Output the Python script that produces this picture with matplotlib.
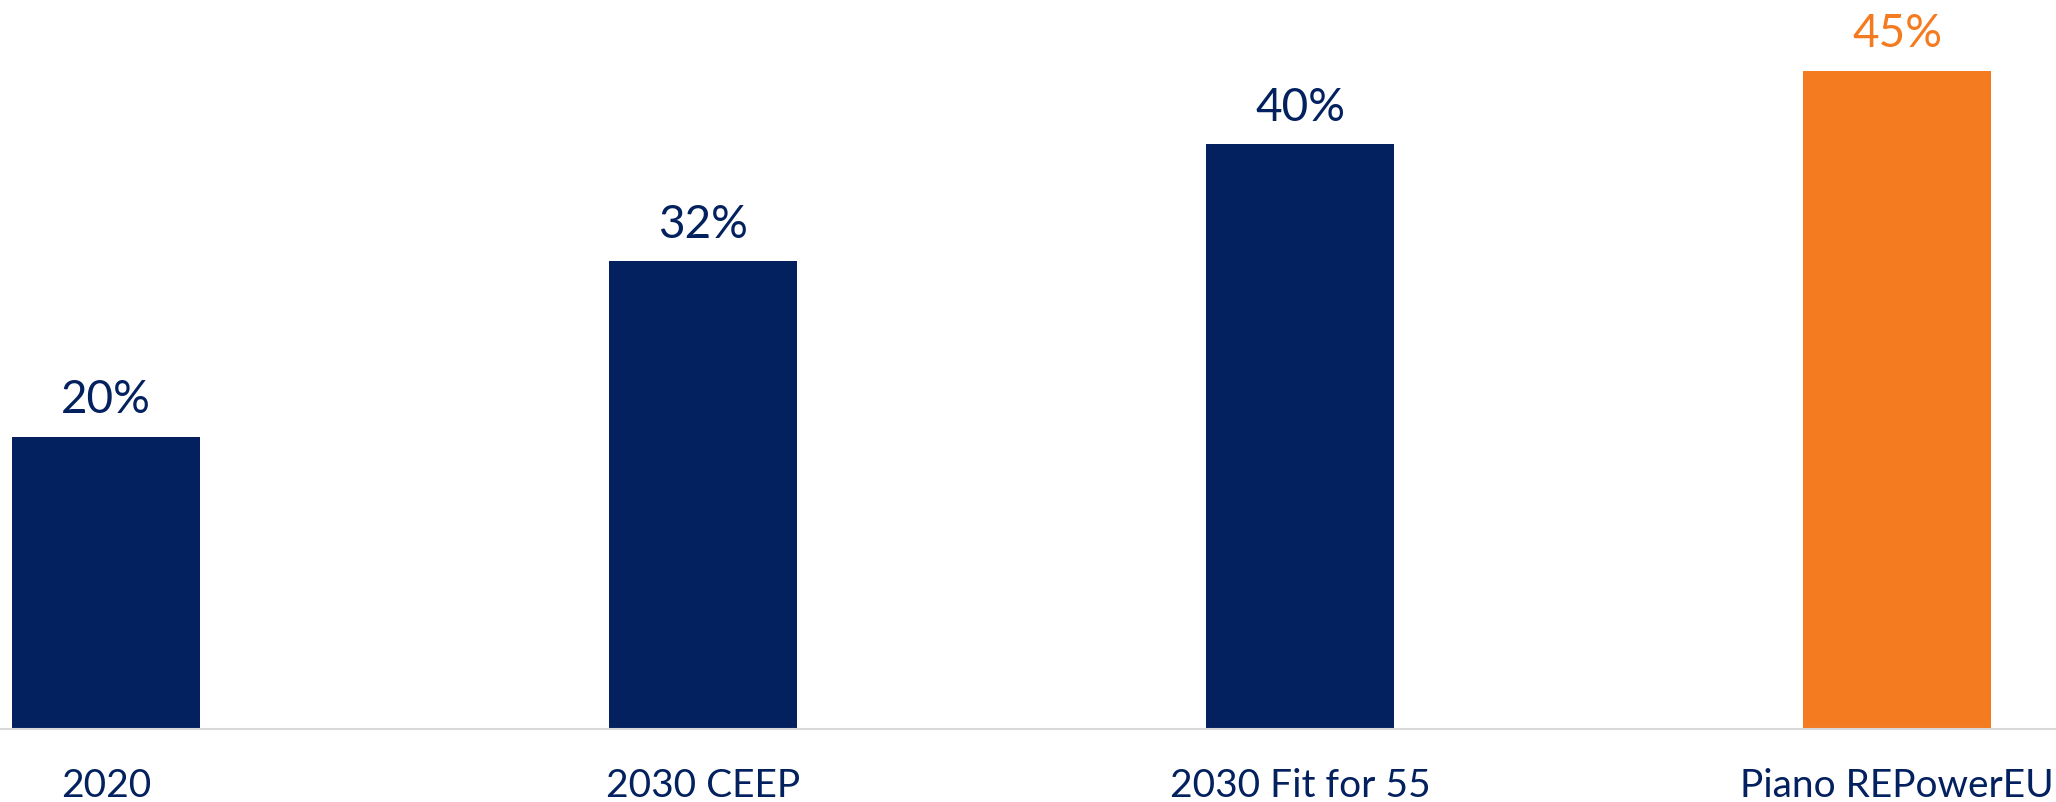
import matplotlib.pyplot as plt

plt.rcParams['font.family'] = ['Lato', 'DejaVu Sans']

categories = ['2020', '2030 CEEP', '2030 Fit for 55', 'Piano REPowerEU']
values = [20, 32, 40, 45]
value_labels = ['20%', '32%', '40%', '45%']

navy = '#03205f'
orange = '#f47b20'
colors = [navy, navy, navy, orange]

fig = plt.figure(figsize=(20.56, 8.02), dpi=100)
ax = fig.add_axes([0, 0.091, 1, 0.9115])

x = range(len(categories))
bars = ax.bar(x, values, width=0.315, color=colors)

for b, lab, c in zip(bars, value_labels, colors):
    ax.annotate(lab, (b.get_x() + b.get_width() / 2, b.get_height()),
                xytext=(0, 17), textcoords='offset points',
                ha='center', va='baseline', fontsize=33, color=c)

ax.set_xlim(-0.1776, 3.266)
ax.set_ylim(0, 50)

ax.set_xticks(list(x))
ax.set_xticklabels(categories, fontsize=28, color=navy)
ax.tick_params(axis='x', length=0, pad=28)
ax.set_yticks([])

for side in ['top', 'left', 'right']:
    ax.spines[side].set_visible(False)
ax.spines['bottom'].set_color('#d9d9d9')
ax.spines['bottom'].set_linewidth(1.5)

fig.savefig('out.png', dpi=100)
